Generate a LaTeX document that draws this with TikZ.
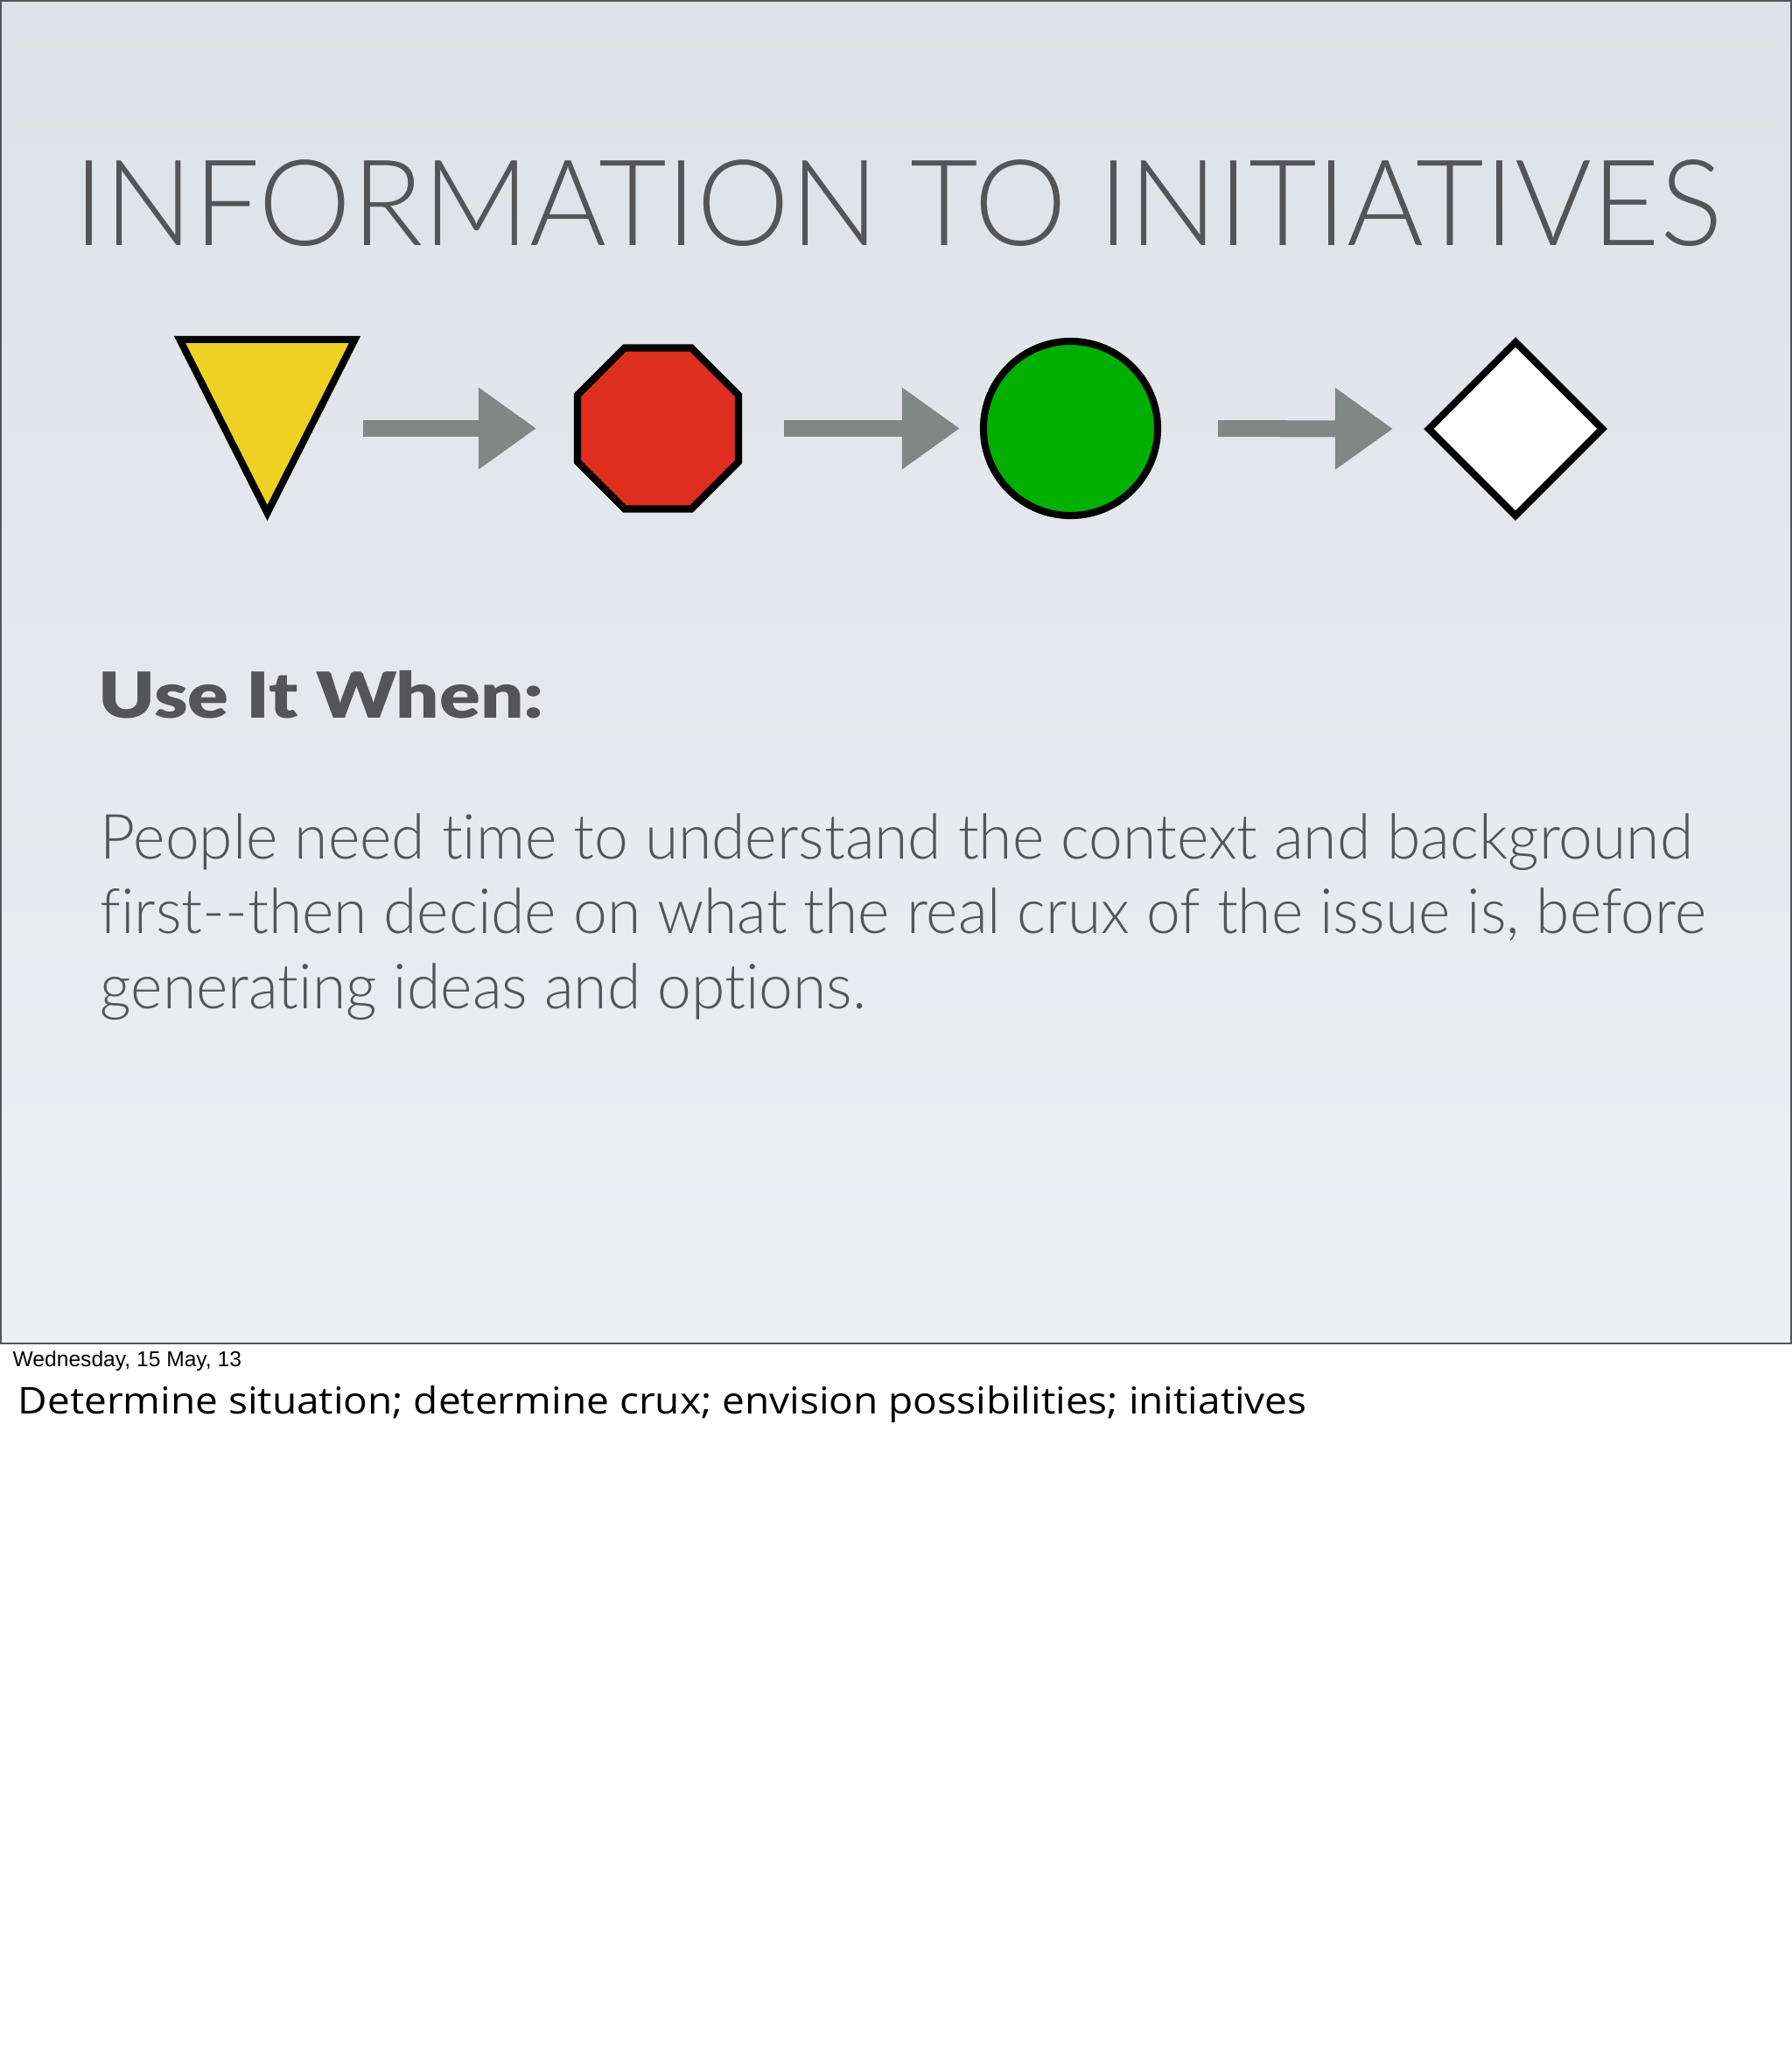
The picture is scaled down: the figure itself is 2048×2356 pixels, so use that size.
\documentclass[tikz,border=0pt]{standalone}
\usepackage{fontspec}
\setmainfont{Lato}
\newfontfamily\titlefont{Lato Light}[FakeStretch=0.981]
\newfontfamily\bodyfont{Lato Light}[FakeStretch=0.977, Ligatures=NoCommon]
\newfontfamily\headfont{Lato Black}[FakeStretch=1.2]
\newfontfamily\notefont{Open Sans}[FakeStretch=1.09]
\newfontfamily\datefont{Liberation Sans}
\usetikzlibrary{arrows.meta, shapes.geometric}

\definecolor{SlideInk}{RGB}{85,85,89}
\definecolor{ArrowGray}{RGB}{128,135,133}
\definecolor{SignYellow}{RGB}{237,210,36}
\definecolor{SignRed}{RGB}{222,46,32}
\definecolor{SignGreen}{RGB}{0,175,0}
\definecolor{SlideTop}{RGB}{222,225,231}
\definecolor{SlideBottom}{RGB}{238,239,243}

\begin{document}
\begin{tikzpicture}[x=0.01cm, y=-0.01cm,
    sign/.style={draw=black, line width=2.3pt, inner sep=0pt, outer sep=0pt},
    flow/.style={-{Triangle[length=0.66cm, width=0.89cm]}, line width=0.19cm, ArrowGray},
    slidetext/.style={anchor=base west, inner sep=0pt, text=SlideInk}
]
    \useasboundingbox (0,0) rectangle (2048,2356);
    \fill[white] (0,0) rectangle (2048,2356);
    \shade[top color=SlideTop, bottom color=SlideBottom] (0,0) rectangle (2048,1535);
    \draw[line width=0.02cm, SlideInk] (1,1) rectangle (2047,1535);

    \node[slidetext, font=\titlefont\fontsize{38.9}{40}\selectfont] (title) at (84,280) {INFORMATION TO INITIATIVES};

    % the four signs
    \node[sign, isosceles triangle, isosceles triangle stretches, shape border rotate=-90,
          minimum width=2cm, minimum height=1.98cm, fill=SignYellow, anchor=apex] (tri) at (305.5,586) {};
    \node[sign, regular polygon, regular polygon sides=8, minimum size=1.99cm, fill=SignRed] (oct) at (752,489.5) {};
    \node[sign, circle, minimum size=1.99cm, fill=SignGreen] (dot) at (1223.5,489.5) {};
    \node[sign, diamond, minimum width=1.98cm, minimum height=1.98cm, fill=white] (gem) at (1732,490) {};

    \draw[flow, shorten <=0.09cm, shorten >=0.47cm] (tri.left corner |- oct.west) -- (oct.west);
    \draw[flow, shorten <=0.52cm, shorten >=0.27cm] (oct.east) -- (dot.west);
    \draw[flow, shorten <=0.69cm, shorten >=0.41cm] (dot.east) -- (gem.west);

    \node[slidetext, font=\headfont\fontsize{20.6}{24}\selectfont] (usewhen) at (112,820) {Use It When:};
    % base of a multi-line node sits on its last line
    \node[slidetext, align=left, font=\bodyfont\fontsize{20.25}{24.2}\selectfont] (body) at (114,1152)
        {People need time to understand the context and background\\
         first-{}-then decide on what the real crux of the issue is, before\\
         generating ideas and options.};

    \node[anchor=base west, inner sep=0pt, font=\datefont\fontsize{7}{9}\selectfont] (date) at (14,1561) {Wednesday, 15 May, 13};
    \node[anchor=base west, inner sep=0pt, font=\notefont\fontsize{12}{14}\selectfont] (notes) at (20,1615)
        {Determine situation; determine crux; envision possibilities; initiatives};
\end{tikzpicture}
\end{document}
